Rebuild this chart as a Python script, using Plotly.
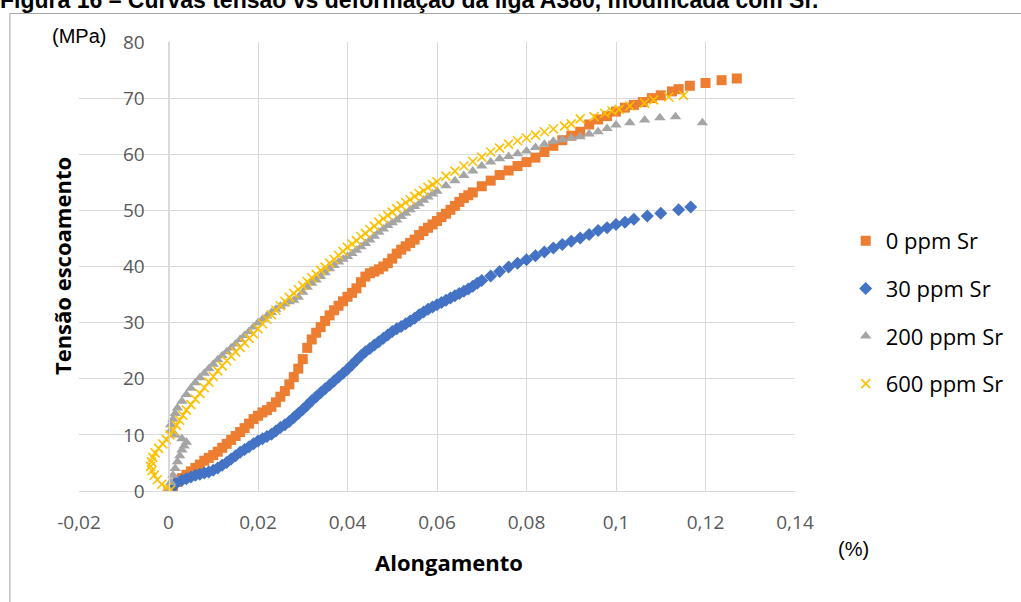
import plotly.graph_objects as go

# ---------------- data ----------------
x_ticks = [-0.02, 0, 0.02, 0.04, 0.06, 0.08, 0.1, 0.12, 0.14]
x_tick_text = ["-0,02", "0", "0,02", "0,04", "0,06", "0,08", "0,1", "0,12", "0,14"]
y_ticks = [0, 10, 20, 30, 40, 50, 60, 70, 80]

series_names = ["0 ppm Sr", "30 ppm Sr", "200 ppm Sr", "600 ppm Sr"]

sr0_x = [0.000, 0.001, 0.002, 0.003, 0.004, 0.005, 0.006, 0.007, 0.008, 0.009,
         0.010, 0.011, 0.012, 0.013, 0.014, 0.015, 0.016, 0.017, 0.018, 0.019,
         0.020, 0.021, 0.022, 0.023, 0.024, 0.025, 0.026, 0.027, 0.028, 0.029,
         0.030, 0.031, 0.032, 0.033, 0.034, 0.035, 0.036, 0.037, 0.038, 0.039,
         0.040, 0.041, 0.042, 0.043, 0.044, 0.045, 0.046, 0.047, 0.048, 0.049,
         0.050, 0.051, 0.052, 0.053, 0.054, 0.055, 0.056, 0.057, 0.058, 0.059,
         0.060, 0.061, 0.062, 0.063, 0.064, 0.065, 0.066, 0.067, 0.068, 0.070,
         0.072, 0.074, 0.076, 0.078, 0.080, 0.082, 0.084, 0.086, 0.088, 0.090,
         0.092, 0.094, 0.096, 0.098, 0.100, 0.102, 0.104, 0.106, 0.108, 0.110,
         0.1125, 0.114, 0.1165, 0.120, 0.1236, 0.127]
sr0_y = [0.0, 0.8, 1.6, 2.3, 2.9, 3.5, 4.1, 4.7, 5.4, 5.9,
         6.4, 7.0, 7.7, 8.4, 9.1, 9.8, 10.5, 11.2, 12.0, 12.8,
         13.4, 14.0, 14.4, 15.0, 15.8, 16.8, 17.8, 19.0, 20.3, 21.8,
         23.5, 25.5, 27.0, 28.2, 29.2, 30.3, 31.3, 32.2, 33.0, 33.8,
         34.6, 35.3, 36.1, 37.2, 38.2, 38.8, 39.1, 39.5, 40.0, 40.6,
         41.4, 42.3, 43.0, 43.6, 44.2, 44.8, 45.6, 46.3, 46.9, 47.5,
         48.1, 48.8, 49.4, 50.1, 50.8, 51.5, 52.2, 52.7, 53.2, 54.3,
         55.3, 56.3, 57.1, 57.9, 58.6, 59.4, 60.4, 61.5, 62.5, 63.3,
         64.0, 65.3, 66.2, 66.8, 67.6, 68.3, 68.8, 69.3, 70.0, 70.5,
         71.2, 71.6, 72.2, 72.7, 73.2, 73.5]

sr30_x = [0.0005, 0.001, 0.0015, 0.002, 0.003, 0.004, 0.005, 0.006, 0.007, 0.008,
          0.009, 0.010, 0.011, 0.012, 0.013, 0.014, 0.015, 0.016, 0.017, 0.018,
          0.019, 0.020, 0.021, 0.022, 0.023, 0.024, 0.025, 0.026, 0.027, 0.028,
          0.029, 0.030, 0.031, 0.032, 0.033, 0.034, 0.035, 0.036, 0.037, 0.038,
          0.039, 0.040, 0.041, 0.042, 0.043, 0.044, 0.045, 0.046, 0.047, 0.048,
          0.049, 0.050, 0.051, 0.052, 0.053, 0.054, 0.055, 0.056, 0.057, 0.058,
          0.059, 0.060, 0.061, 0.062, 0.063, 0.064, 0.065, 0.066, 0.067, 0.068,
          0.069, 0.070, 0.072, 0.074, 0.076, 0.078, 0.080, 0.082, 0.084, 0.086,
          0.088, 0.090, 0.092, 0.094, 0.096, 0.098, 0.100, 0.102, 0.104, 0.107,
          0.110, 0.114, 0.1167]
sr30_y = [0.3, 0.9, 1.3, 1.6, 1.9, 2.2, 2.5, 2.8, 3.0, 3.2,
          3.4, 3.7, 4.1, 4.6, 5.1, 5.7, 6.3, 6.9, 7.4, 7.9,
          8.4, 8.9, 9.3, 9.7, 10.1, 10.7, 11.3, 11.8, 12.4, 13.1,
          13.8, 14.5, 15.3, 16.1, 16.8, 17.5, 18.2, 18.9, 19.6, 20.3,
          21.0, 21.7, 22.5, 23.3, 24.1, 24.8, 25.4, 26.0, 26.6, 27.2,
          27.8, 28.4, 28.9, 29.3, 29.8, 30.3, 30.8, 31.4, 31.9, 32.4,
          32.8, 33.2, 33.6, 34.0, 34.4, 34.8, 35.2, 35.6, 36.0, 36.5,
          37.0, 37.5, 38.3, 39.1, 39.9, 40.6, 41.2, 41.9, 42.6, 43.3,
          43.9, 44.5, 45.1, 45.7, 46.4, 46.9, 47.5, 47.9, 48.4, 49.0,
          49.5, 50.1, 50.6]

sr200_x = [0.0000, 0.0005, 0.0010, 0.0015, 0.0020, 0.0025, 0.0030, 0.0035, 0.0040, 0.0030,
           0.0015, 0.0005, 0.0005, 0.0010, 0.0015, 0.0020, 0.0030, 0.0040, 0.0050, 0.0060,
           0.0070, 0.0080, 0.0090, 0.0100, 0.0110, 0.0120, 0.0130, 0.0140, 0.0150, 0.0160,
           0.0170, 0.0180, 0.0190, 0.0200, 0.0210, 0.0220, 0.0230, 0.0240, 0.0250, 0.0260,
           0.0270, 0.0280, 0.0290, 0.0300, 0.0310, 0.0320, 0.0330, 0.0340, 0.0350, 0.0360,
           0.0370, 0.0380, 0.0390, 0.0400, 0.0410, 0.0420, 0.0430, 0.0440, 0.0450, 0.0460,
           0.0470, 0.0480, 0.0490, 0.0500, 0.0510, 0.0520, 0.0530, 0.0540, 0.0550, 0.0560,
           0.0570, 0.0580, 0.0590, 0.0600, 0.0620, 0.0640, 0.0660, 0.0680, 0.0700, 0.0720,
           0.0740, 0.0760, 0.0780, 0.0800, 0.0820, 0.0840, 0.0860, 0.0880, 0.0900, 0.0920,
           0.0940, 0.0960, 0.0980, 0.1000, 0.1031, 0.1064, 0.1098, 0.1133, 0.1193]
sr200_y = [0.3, 1.5, 2.8, 4.0, 5.2, 6.3, 7.3, 8.0, 8.7, 9.3,
           10.0, 10.8, 11.8, 12.8, 13.8, 14.8, 16.0, 17.2, 18.3, 19.3,
           20.2, 21.0, 21.8, 22.6, 23.4, 24.1, 24.8, 25.5, 26.2, 27.0,
           27.7, 28.4, 29.2, 30.0, 30.6, 31.2, 31.8, 32.4, 32.9, 33.3,
           33.7, 34.0, 34.5, 35.4, 36.3, 37.0, 37.6, 38.2, 38.9, 39.6,
           40.2, 40.8, 41.3, 41.8, 42.3, 42.9, 43.5, 44.1, 44.7, 45.4,
           46.1, 46.7, 47.3, 47.8, 48.3, 48.9, 49.5, 50.1, 50.7, 51.2,
           51.8, 52.4, 52.9, 53.4, 54.4, 55.3, 56.2, 57.0, 57.9, 58.6,
           59.2, 59.6, 60.1, 60.6, 61.2, 61.8, 62.3, 62.6, 62.9, 63.1,
           63.6, 64.0, 64.6, 65.2, 65.6, 66.1, 66.5, 66.7, 65.6]

sr600_x = [0.0005, -0.0005, -0.0015, -0.0025, -0.0032, -0.0037, -0.0040, -0.0038, -0.0035, -0.0030,
           -0.0022, -0.0013, -0.0005, 0.0003, 0.0010, 0.0018, 0.0025, 0.0032, 0.0040, 0.0050,
           0.0060, 0.0070, 0.0080, 0.0090, 0.0100, 0.0110, 0.0120, 0.0130, 0.0140, 0.0150,
           0.0160, 0.0170, 0.0180, 0.0190, 0.0200, 0.0210, 0.0220, 0.0230, 0.0240, 0.0250,
           0.0260, 0.0270, 0.0280, 0.0290, 0.0300, 0.0310, 0.0320, 0.0330, 0.0340, 0.0350,
           0.0360, 0.0370, 0.0380, 0.0390, 0.0400, 0.0410, 0.0420, 0.0430, 0.0440, 0.0450,
           0.0460, 0.0470, 0.0480, 0.0490, 0.0500, 0.0510, 0.0520, 0.0530, 0.0540, 0.0550,
           0.0560, 0.0570, 0.0580, 0.0590, 0.0600, 0.0620, 0.0640, 0.0660, 0.0680, 0.0700,
           0.0720, 0.0740, 0.0760, 0.0780, 0.0800, 0.0820, 0.0840, 0.0860, 0.0885, 0.0900,
           0.0920, 0.0951, 0.0975, 0.0991, 0.1007, 0.1031, 0.1064, 0.1084, 0.1118, 0.1151]
sr600_y = [0.2, 0.6, 1.2, 2.0, 2.8, 3.6, 4.4, 5.2, 6.0, 6.8,
           7.6, 8.4, 9.2, 10.0, 10.8, 11.7, 12.6, 13.5, 14.4, 15.4,
           16.4, 17.4, 18.4, 19.4, 20.4, 21.4, 22.3, 23.2, 24.0, 24.8,
           25.6, 26.4, 27.2, 28.0, 28.9, 29.8, 30.6, 31.4, 32.2, 33.0,
           33.8, 34.5, 35.2, 35.9, 36.6, 37.3, 38.0, 38.6, 39.3, 39.9,
           40.6, 41.3, 42.0, 42.7, 43.4, 44.0, 44.6, 45.3, 45.9, 46.6,
           47.2, 47.9, 48.5, 49.1, 49.7, 50.3, 50.8, 51.4, 51.9, 52.5,
           53.0, 53.5, 54.1, 54.6, 55.1, 56.1, 57.0, 57.9, 58.7, 59.5,
           60.4, 61.1, 61.8, 62.4, 62.9, 63.4, 64.0, 64.5, 65.0, 65.4,
           66.3, 66.7, 67.3, 67.7, 68.0, 68.6, 69.1, 69.7, 70.2, 70.5]

# ---------------- figure ----------------
W, H = 1021, 602
L, R, T, B = 79, 799, 42, 491  # plot area in pixels


def px(xp):
    return (xp - L) / (R - L)


def py(yp):
    return (B - yp) / (B - T)


colors = ["#ED7D31", "#4472C4", "#A5A5A5", "#FFC000"]
fig = go.Figure()
fig.add_trace(go.Scatter(x=sr0_x, y=sr0_y, mode="markers", name=series_names[0],
                         legendgroup="a",
                         marker=dict(symbol="square", size=10, color=colors[0])))
fig.add_trace(go.Scatter(x=sr30_x, y=sr30_y, mode="markers", name=series_names[1],
                         legendgroup="b",
                         marker=dict(symbol="diamond", size=10, color=colors[1])))
fig.add_trace(go.Scatter(x=sr200_x, y=sr200_y, mode="markers", name=series_names[2],
                         legendgroup="c",
                         marker=dict(symbol="triangle-up", size=10, color=colors[2])))
fig.add_trace(go.Scatter(x=sr600_x, y=sr600_y, mode="markers", name=series_names[3],
                         legendgroup="d",
                         marker=dict(symbol="x-thin", size=9, color=colors[3],
                                     line=dict(width=1.6, color=colors[3]))))

grid = "#D9D9D9"
tickfont = dict(family="Open Sans", size=19, color="#595959")

fig.update_layout(
    width=W, height=H,
    margin=dict(l=L, r=W - R, t=T, b=H - B, pad=0),
    paper_bgcolor="white", plot_bgcolor="white",
    separators=", ",
    showlegend=True,
    legend=dict(x=px(850), y=py(220), xanchor="left", yanchor="top",
                font=dict(family="Open Sans", size=22, color="black"),
                tracegroupgap=16, itemsizing="trace", bgcolor="rgba(0,0,0,0)"),
    xaxis=dict(range=[-0.02, 0.14], tickvals=x_ticks, ticktext=x_tick_text,
               showgrid=True, gridcolor=grid, gridwidth=1, zeroline=False,
               showline=True, linecolor=grid, linewidth=1, ticks="",
               ticklabelstandoff=14, tickfont=tickfont),
    yaxis=dict(range=[0, 80], tickvals=y_ticks, anchor="free", position=px(169),
               showgrid=True, gridcolor=grid, gridwidth=1, zeroline=False,
               showline=True, linecolor=grid, linewidth=1, ticks="",
               ticklabelstandoff=20, tickfont=tickfont),
)

annotations = [
    dict(text="<b>Figura 16 – Curvas tensão vs deformação da liga A380, modificada com Sr.</b>",
         x=px(-2), y=py(15), xanchor="left", yanchor="bottom",
         font=dict(family="Liberation Sans", size=23, color="black")),
    dict(text="(MPa)", x=px(79), y=py(36), xanchor="center", yanchor="middle",
         font=dict(family="Liberation Sans", size=20, color="black")),
    dict(text="<b>Tensão escoamento</b>", x=px(62), y=py(266), xanchor="center",
         yanchor="middle", textangle=-90,
         font=dict(family="Open Sans", size=22, color="black")),
    dict(text="<b>Alongamento</b>", x=px(451), y=py(562), xanchor="center",
         yanchor="middle", font=dict(family="Open Sans", size=22, color="black")),
    dict(text="(%)", x=px(858), y=py(549), xanchor="center", yanchor="middle",
         font=dict(family="Liberation Sans", size=20, color="black")),
]
for a in annotations:
    a.update(xref="paper", yref="paper", showarrow=False)
fig.update_layout(annotations=annotations)

fig.add_shape(type="rect", xref="paper", yref="paper",
              x0=px(9.5), x1=px(1040), y0=py(13.5), y1=py(620),
              line=dict(color="#A6A6A6", width=1), fillcolor="rgba(0,0,0,0)",
              layer="below")

fig.write_html("out.html", config={"displayModeBar": False},
               post_script="document.body.style.margin='0';")
